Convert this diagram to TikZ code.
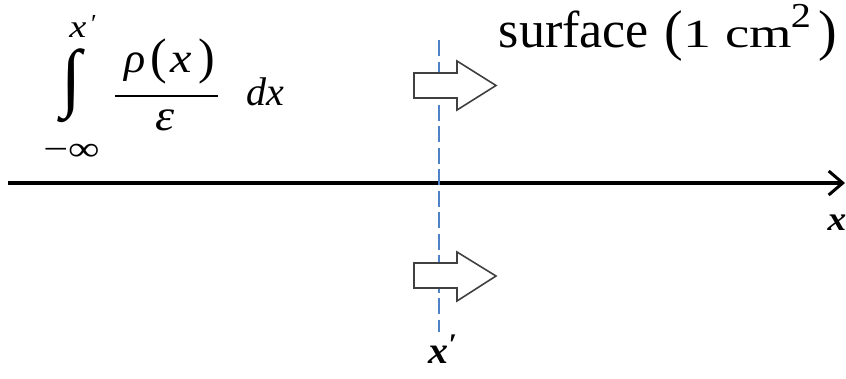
\documentclass[tikz,border=0pt]{standalone}
\usepackage{fontspec}
\usepackage{graphicx}
\setmainfont{Liberation Serif}
\usetikzlibrary{arrows.meta}
\definecolor{dashblue}{RGB}{80,130,200}
\definecolor{arrgray}{RGB}{64,64,64}
\newcommand\gl[3]{{\fontsize{#1pt}{#1pt}\selectfont\scalebox{#2}[1]{#3}}}
\begin{document}
\begin{tikzpicture}[x=1pt,y=-1pt,
  txt/.style={inner sep=0pt, outer sep=0pt, anchor=base},
  blockarrow/.style={draw=arrgray, line width=1.6pt, fill=white, line join=miter}]
\path[use as bounding box] (0,0) rectangle (846,378);
% axis
\coordinate (axL) at (8,183);
\coordinate (axR) at (845,183);
\draw[line width=4pt, -{Straight Barb[length=14pt,width=24pt,line width=3pt]}] (axL) -- (axR);
% dashed line
\coordinate (dT) at (439,40);
\coordinate (dB) at (439,332);
\draw[dashblue, line width=1.4pt, dash pattern=on 16pt off 5.5pt] (dT) -- (dB);
% block arrows
\draw[blockarrow] (414,73) -- (457,73) -- (457,61) -- (496,85.5) -- (457,110) -- (457,98) -- (414,98) -- cycle;
\draw[blockarrow] (414,263) -- (457,263) -- (457,252) -- (496,276) -- (457,301) -- (457,288) -- (414,288) -- cycle;
% surface text
\node[txt] (surf) at (574,47) {\gl{52}{1}{surface}};
\node[txt] (lp) at (673.5,49) {\gl{56}{1}{(}};
\node[txt] (one) at (697.5,47) {\gl{40}{1.4}{1}};
\node[txt] (cm) at (758.5,47) {\gl{42}{1.3}{cm}};
\node[txt] (two) at (801,27) {\gl{35}{1.15}{2}};
\node[txt] (rp) at (827.5,49) {\gl{56}{1}{)}};
% formula
\node[inner sep=0pt, anchor=center] (int) at (71.5,86) {\resizebox*{20pt}{74pt}{\gl{40}{1}{∫}}};
\node[txt] (ux) at (78,37) {\gl{32}{1.2}{\itshape x}};
\node[txt] (up) at (94,32) {\gl{26}{1}{′}};
\node[txt] (lo) at (71.5,160) {\gl{34}{1.3}{−∞}};
\node[txt] (rho) at (135,72) {\gl{42}{1.05}{\itshape ρ}};
\node[txt] (lp2) at (158.5,73) {\gl{50}{1}{(}};
\node[txt] (xx) at (181.5,72) {\gl{42}{1.15}{\itshape x}};
\node[txt] (rp2) at (206.5,73) {\gl{50}{1}{)}};
\draw[line width=2pt] (115,96) -- (218,96);
\node[txt] (eps) at (165,130) {\gl{44}{1.1}{\itshape ε}};
\node[txt] (dx) at (265,105) {\gl{40}{1}{\itshape dx}};
% axis labels
\node[txt] (xb) at (438,363) {\gl{38}{1.05}{\bfseries\itshape x}};
\node[txt] (pb) at (453,354) {\gl{30}{1}{\bfseries ′}};
\node[txt] (xr) at (837,230) {\gl{34}{1.1}{\bfseries\itshape x}};
\end{tikzpicture}
\end{document}
